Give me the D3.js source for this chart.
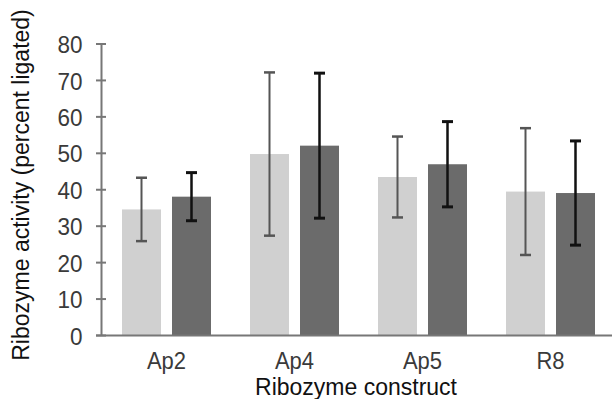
<!DOCTYPE html>
<html><head><meta charset="utf-8">
<script src="https://cdn.jsdelivr.net/npm/d3@7"></script>
<style>body{margin:0;background:#fff}svg{display:block}text{font-family:"Liberation Sans",Arial,sans-serif}</style>
</head><body><svg id="c" width="612" height="399"></svg>
<script>
const categories = ["Ap2", "Ap4", "Ap5", "R8"];
const series = ["A", "B"];
const meansA = [34.6, 49.8, 43.5, 39.5];
const errA   = [8.7, 22.4, 11.1, 17.4];
const meansB = [38.1, 52.1, 47.0, 39.1];
const errB   = [6.6, 19.9, 11.7, 14.3];
const yTicks = [0, 10, 20, 30, 40, 50, 60, 70, 80];

const svg = d3.select("#c");
const x0 = d3.scaleBand().domain(categories).range([102.5, 614.5]);
const x1 = d3.scaleBand().domain(series).range([19.5, 108.5]).paddingInner(0.22);
const y = d3.scaleLinear().domain([0, 80]).range([335.5, 44]);

const data = [];
categories.forEach((c, i) => {
  data.push({c, s: "A", v: meansA[i], e: errA[i], fill: "#d0d0d0", ec: "#555555", ew: 2});
  data.push({c, s: "B", v: meansB[i], e: errB[i], fill: "#6b6b6b", ec: "#111111", ew: 2.5});
});

svg.selectAll("rect.bar").data(data).join("rect").attr("class", "bar")
  .attr("x", d => x0(d.c) + x1(d.s))
  .attr("width", x1.bandwidth())
  .attr("y", d => y(d.v))
  .attr("height", d => y(0) - y(d.v))
  .attr("fill", d => d.fill);

// error bars
const eg = svg.selectAll("g.err").data(data).join("g").attr("class", "err");
const cx = d => x0(d.c) + x1(d.s) + x1.bandwidth() / 2;
eg.append("line").attr("x1", cx).attr("x2", cx)
  .attr("y1", d => y(d.v + d.e)).attr("y2", d => y(d.v - d.e))
  .attr("stroke", d => d.ec).attr("stroke-width", d => d.ew);
[1, -1].forEach(sg => {
  eg.append("line").attr("x1", d => cx(d) - 5.5).attr("x2", d => cx(d) + 5.5)
    .attr("y1", d => y(d.v + sg * d.e)).attr("y2", d => y(d.v + sg * d.e))
    .attr("stroke", d => d.ec).attr("stroke-width", d => d.ew + 0.5);
});

// y axis
svg.append("line").attr("x1", 101.5).attr("x2", 101.5).attr("y1", y(80)).attr("y2", y(0))
  .attr("stroke", "#777").attr("stroke-width", 2);
svg.selectAll("line.yt").data(yTicks).join("line").attr("class", "yt")
  .attr("x1", 96).attr("x2", 106).attr("y1", d => y(d)).attr("y2", d => y(d))
  .attr("stroke", "#777").attr("stroke-width", 2);
svg.selectAll("text.yl").data(yTicks).join("text").attr("class", "yl")
  .attr("transform", d => `translate(82.5,${y(d) + 0.4}) scale(1,1.08)`)
  .attr("dy", "0.36em")
  .attr("text-anchor", "end").attr("font-size", 22.5).attr("fill", "#3a3a3a")
  .text(d => d);

// x axis
svg.append("line").attr("x1", 96).attr("x2", 612).attr("y1", y(0)).attr("y2", y(0))
  .attr("stroke", "#777").attr("stroke-width", 2);
svg.selectAll("text.xl").data(categories).join("text").attr("class", "xl")
  .attr("transform", d => `translate(${x0(d) + x0.bandwidth() / 2},369) scale(1,1.1)`)
  .attr("text-anchor", "middle").attr("font-size", 22).attr("fill", "#3a3a3a")
  .text(d => d);

svg.append("text").attr("x", 356).attr("y", 395).attr("text-anchor", "middle")
  .attr("font-size", 23).attr("fill", "#111").text("Ribozyme construct");
svg.append("text").attr("transform", "translate(28.5,185) rotate(-90)")
  .attr("text-anchor", "middle").attr("font-size", 23).attr("fill", "#111")
  .text("Ribozyme activity (percent ligated)");
</script></body></html>
